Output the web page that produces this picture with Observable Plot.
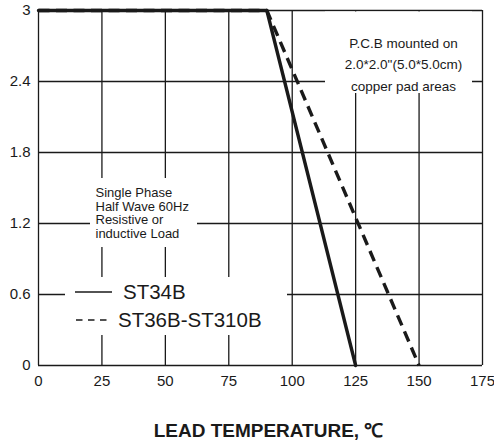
<!DOCTYPE html>
<html>
<head>
<meta charset="utf-8">
<script src="https://cdn.jsdelivr.net/npm/d3@7"></script>
<script src="https://cdn.jsdelivr.net/npm/@observablehq/plot@0.6"></script>
<style>
  html, body { margin: 0; padding: 0; background: #fff; }
  #chart { width: 494px; height: 443px; }
</style>
</head>
<body>
<div id="chart"></div>
<script>
// ---- data ----
const xTicks = [0, 25, 50, 75, 100, 125, 150, 175];
const yTicks = [0, 0.6, 1.2, 1.8, 2.4, 3];
const st34bTemp = [0, 90, 125];
const st34bCurrent = [3, 3, 0];
const st36bTemp = [0, 90, 150];
const st36bCurrent = [3, 3, 0];
const seriesNames = ["ST34B", "ST36B-ST310B"];
const notePcb = "P.C.B mounted on\n2.0*2.0\"(5.0*5.0cm)\ncopper pad areas";
const noteLoad = "Single Phase\nHalf Wave 60Hz\nResistive or\ninductive Load";
const xLabel = "LEAD TEMPERATURE, \u2103";

const st34b = st34bTemp.map((t, i) => ({temp: t, current: st34bCurrent[i]}));
const st36b = st36bTemp.map((t, i) => ({temp: t, current: st36bCurrent[i]}));

const INK = "#1a1a1a";
const FONT = "'Liberation Sans', Arial, Helvetica, sans-serif";

// white panels that interrupt the grid behind the notes (frame-relative layout)
function notePanels(index, scales, values, dims) {
  const L = dims.marginLeft, T = dims.marginTop, R = dims.width - dims.marginRight;
  const g = d3.create("svg:g").attr("aria-hidden", "true").attr("fill", "#fff");
  g.append("rect").attr("x", R - 157).attr("y", T + 1.5).attr("width", 147).attr("height", 81.5);
  g.append("rect").attr("x", L + 52).attr("y", T + 168).attr("width", 107).attr("height", 69);
  return g.node();
}

// legend drawn in frame-relative pixel space
function legendMark(index, scales, values, dims) {
  const L = dims.marginLeft, B = dims.height - dims.marginBottom;
  const g = d3.create("svg:g").attr("aria-label", "legend");
  g.append("rect").attr("x", L + 27).attr("y", B - 88).attr("width", 222).attr("height", 58).attr("fill", "#fff");
  const rows = [
    {name: seriesNames[0], dash: null, y: B - 73, x1: L + 37, x2: L + 74, tx: L + 85},
    {name: seriesNames[1], dash: "6.5,5.5", y: B - 45, x1: L + 38, x2: L + 72, tx: L + 80}
  ];
  for (const r of rows) {
    g.append("line").attr("x1", r.x1).attr("x2", r.x2).attr("y1", r.y).attr("y2", r.y)
      .attr("stroke", INK).attr("stroke-width", 1.6).attr("stroke-dasharray", r.dash);
    g.append("text").attr("x", r.tx).attr("y", r.y).attr("dy", "0.36em")
      .attr("text-anchor", "start")
      .attr("font-size", 20.5).attr("fill", INK).attr("font-family", FONT).text(r.name);
  }
  return g.node();
}

const plot = Plot.plot({
  width: 494,
  height: 443,
  marginLeft: 38,
  marginRight: 12,
  marginTop: 10,
  marginBottom: 78,
  style: {fontFamily: FONT, fontSize: "15px", color: INK, background: "#fff"},
  x: {domain: [0, 175]},
  y: {domain: [0, 3]},
  marks: [
    Plot.gridX(xTicks, {stroke: INK, strokeOpacity: 1, strokeWidth: 1.3}),
    Plot.gridY(yTicks, {stroke: INK, strokeOpacity: 1, strokeWidth: 1.3}),
    Plot.axisX(xTicks, {tickSize: 0, tickPadding: 10, label: null, tickFormat: d => String(d), fontSize: 15}),
    Plot.axisY(yTicks, {tickSize: 0, tickPadding: 8, label: null, tickFormat: d => String(d), fontSize: 15}),
    notePanels,
    Plot.text([notePcb], {text: d => d, frameAnchor: "top-right", textAnchor: "middle", lineAnchor: "top",
      dx: -79, dy: 22, lineHeight: 1.6, fontSize: 13.5, fill: INK}),
    Plot.text([noteLoad], {text: d => d, frameAnchor: "top-left", textAnchor: "start", lineAnchor: "top",
      dx: 57, dy: 177, lineHeight: 1.05, fontSize: 13, fill: INK}),
    legendMark,
    Plot.line(st36b, {x: "temp", y: "current", stroke: INK, strokeWidth: 3.4, strokeDasharray: "11,6.5", strokeLinecap: "butt"}),
    Plot.line(st34b, {x: "temp", y: "current", stroke: INK, strokeWidth: 3.4}),
    Plot.text([xLabel], {text: d => d, frameAnchor: "bottom", lineAnchor: "middle", dy: 65, dx: 8,
      fontSize: 19, fontWeight: "bold", fill: INK})
  ]
});

document.getElementById("chart").appendChild(plot);
</script>
</body>
</html>
